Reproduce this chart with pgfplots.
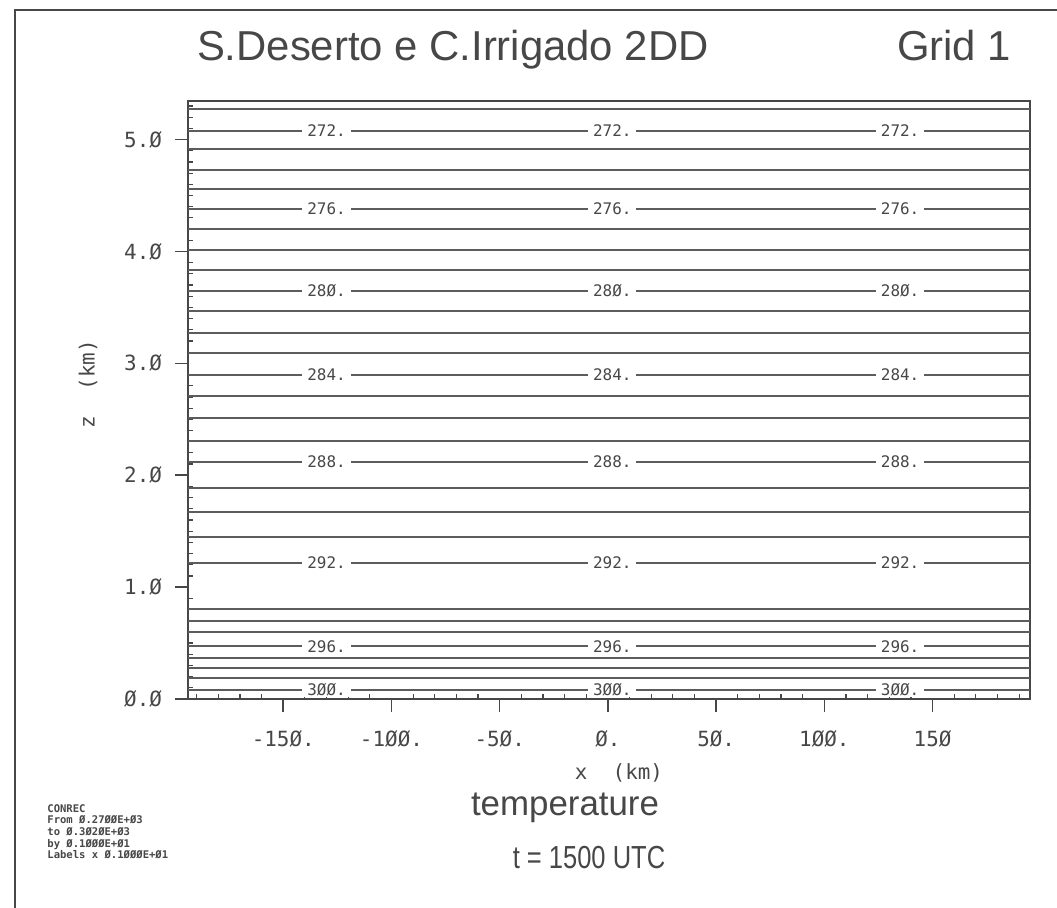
\documentclass[border=0pt]{standalone}
\usepackage{fontspec}
\setmainfont{Liberation Sans}
\setmonofont{DejaVu Sans Mono}
\newfontfamily\narrowfont[FakeStretch=0.8]{Liberation Sans}
\usepackage{pgfplots}
\pgfplotsset{compat=1.18}

\definecolor{ink}{gray}{0.28}
\definecolor{cline}{gray}{0.36}

\tikzset{lbl/.style={fill=white, text=ink, inner xsep=2.5bp, inner ysep=0.3bp,
        font=\ttfamily\fontsize{8}{9}\selectfont}}

% contour label at three x positions
\newcommand\clab[2]{%
  \node[lbl] at (axis cs:-130,#1) {#2};
  \node[lbl] at (axis cs:2,#1) {#2};
  \node[lbl] at (axis cs:135,#1) {#2};}

\begin{document}
\begin{tikzpicture}
\useasboundingbox (0,0) rectangle (528.5bp,454bp);
\draw[ink, line width=1.2bp] (7.5bp,0) -- (7.5bp,449bp) -- (528.5bp,449bp);

\begin{axis}[
    scale only axis,
    width=421bp, height=299bp,
    at={(94bp,104.5bp)}, anchor=south west,
    xmin=-194, xmax=195,
    ymin=0, ymax=5.345,
    axis line style={ink, line width=1bp},
    xtick={-150,-100,-50,0,50,100,150},
    xticklabels={-15Ø.,-1ØØ.,-5Ø.,Ø.,5Ø.,1ØØ.,15Ø},
    ytick={0,1,2,3,4,5},
    yticklabels={Ø.Ø,1.Ø,2.Ø,3.Ø,4.Ø,5.Ø},
    xtick pos=bottom, ytick pos=left,
    tick align=outside,
    major tick length=6.5bp,
    tick style={ink, line width=0.8bp},
    ticklabel style={font=\ttfamily\fontsize{10.5}{12}\selectfont, text=ink},
    xticklabel style={yshift=-6bp},
    yticklabel style={xshift=-3bp},
    extra x ticks={-190,-180,-170,-160,-140,-130,-120,-110,-90,-80,-70,-60,-40,-30,-20,-10,10,20,30,40,60,70,80,90,110,120,130,140,160,170,180,190},
    extra x tick labels={},
    extra y ticks={0.1,0.2,0.3,0.4,0.5,0.6,0.7,0.8,0.9,1.1,1.2,1.3,1.4,1.5,1.6,1.7,1.8,1.9,2.1,2.2,2.3,2.4,2.5,2.6,2.7,2.8,2.9,3.1,3.2,3.3,3.4,3.5,3.6,3.7,3.8,3.9,4.1,4.2,4.3,4.4,4.5,4.6,4.7,4.8,4.9,5.1,5.2,5.3},
    extra y tick labels={},
    extra tick style={tick align=inside, major tick length=2.5bp, tick style={ink, line width=0.6bp}},
]

% isotherms, 1 K apart (height in km)
\pgfplotsinvokeforeach{5.27,5.08,4.92,4.73,4.56,4.38,4.20,4.01,3.83,3.65,3.47,3.27,3.09,2.90,2.71,2.51,2.31,2.12,1.89,1.67,1.45,1.22,0.80,0.70,0.60,0.47,0.37,0.28,0.19,0.08}{
  \addplot[cline, line width=1bp, mark=none] coordinates {(-194,#1) (195,#1)};
}

\clab{5.08}{272.}
\clab{4.38}{276.}
\clab{3.65}{28Ø.}
\clab{2.90}{284.}
\clab{2.12}{288.}
\clab{1.22}{292.}
\clab{0.47}{296.}
\clab{0.08}{3ØØ.}
\end{axis}

\node[ink, anchor=base west, font=\fontsize{21}{24}\selectfont] at (95bp,423.5bp) {S.Deserto e C.Irrigado 2DD};
\node[ink, anchor=base west, font=\fontsize{21}{24}\selectfont] at (445bp,423.5bp) {Grid 1};

\node[ink, font=\ttfamily\fontsize{10.5}{12}\selectfont] at (309.5bp,67.5bp) {x\ \ (km)};
\node[ink, rotate=90, font=\ttfamily\fontsize{10.5}{12}\selectfont] at (44bp,262bp) {z\ \ (km)};

\node[ink, font=\fontsize{17.5}{20}\selectfont] at (282.5bp,50bp) {temperature};
\node[ink, font=\narrowfont\fontsize{16}{18}\selectfont] at (294.5bp,25bp) {t = 1500 UTC};

\node[ink, anchor=north west, align=left, inner sep=0pt,
      font=\ttfamily\bfseries\fontsize{5.3}{5.85}\selectfont] at (23.5bp,52bp)
  {CONREC\\From Ø.27ØØE+Ø3\\to Ø.3Ø2ØE+Ø3\\by Ø.1ØØØE+Ø1\\Labels x Ø.1ØØØE+Ø1};
\end{tikzpicture}
\end{document}
